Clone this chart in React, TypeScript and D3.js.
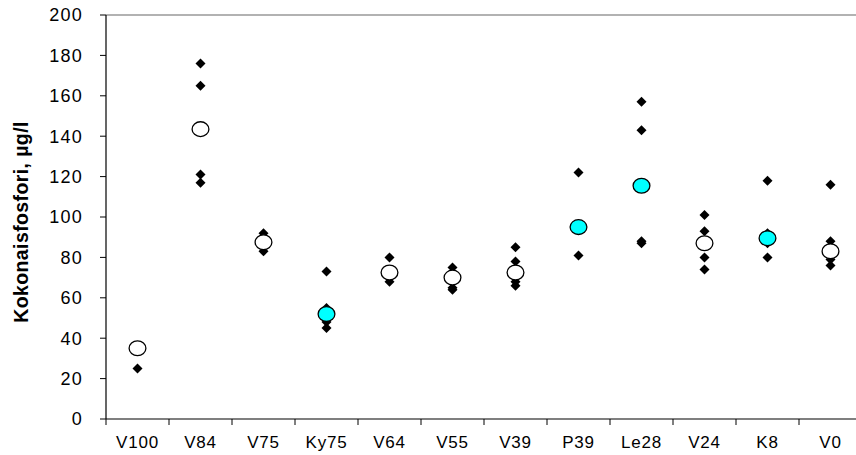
import React from "react";
import * as d3 from "d3";

// Sampling sites along the watercourse
const categories = ["V100", "V84", "V75", "Ky75", "V64", "V55", "V39", "P39", "Le28", "V24", "K8", "V0"];

// Individual total-phosphorus observations per site (µg/l)
const observations: number[][] = [
  [25],
  [176, 165, 121, 117],
  [92, 83],
  [73, 55, 48, 45],
  [80, 68],
  [75, 65, 64],
  [85, 78, 68, 66],
  [122, 81],
  [157, 143, 88, 87],
  [101, 93, 80, 74],
  [118, 92, 87, 80],
  [116, 88, 79, 76],
];

// Site averages (µg/l)
const averages = [35, 143.5, 87.5, 52, 72.5, 70, 72.5, 95, 115.5, 87, 89.5, 83];

// Sites whose average is shown in the highlight colour
const highlighted = ["Ky75", "P39", "Le28", "K8"];

const yTicks = [0, 20, 40, 60, 80, 100, 120, 140, 160, 180, 200];

const W = 856;
const H = 455;
const plotLeft = 106;
const plotTop = 15;
const plotBottom = 419;
const bandWidth = 63;

export default function App() {
  const x = d3
    .scaleBand<string>()
    .domain(categories)
    .range([plotLeft, plotLeft + bandWidth * categories.length])
    .padding(0);
  const y = d3.scaleLinear().domain([0, 200]).range([plotBottom, plotTop]);
  const diamond = d3.symbol(d3.symbolSquare, 50)() as string;
  const font = "'Liberation Sans', Arial, sans-serif";
  const cx = (c: string) => (x(c) as number) + x.bandwidth() / 2;
  const boundaries = d3.range(categories.length + 1).map((i) => plotLeft + i * x.bandwidth());

  return (
    <svg
      width={W}
      height={H}
      style={{ position: "fixed", top: 0, left: 0, background: "#fff" }}
      fontFamily={font}
    >
      <rect x={0} y={0} width={W} height={H} fill="#fff" />
      {/* plot frame top */}
      <line x1={plotLeft} x2={W} y1={plotTop} y2={plotTop} stroke="#999" strokeWidth={1.5} />
      {/* y axis */}
      <line x1={plotLeft} x2={plotLeft} y1={plotTop} y2={plotBottom} stroke="#000" strokeWidth={1.2} />
      {yTicks.map((t) => (
        <g key={t}>
          <line x1={plotLeft - 6} x2={plotLeft} y1={y(t)} y2={y(t)} stroke="#000" strokeWidth={1} />
          <text x={83} y={y(t)} dy="0.36em" textAnchor="end" fontSize={18} letterSpacing={1.2} fill="#000">
            {t}
          </text>
        </g>
      ))}
      <text
        transform={`translate(28,222) rotate(-90)`}
        textAnchor="middle"
        fontSize={19.5}
        letterSpacing={0.4}
        fontWeight="bold"
        fill="#000"
      >
        Kokonaisfosfori, µg/l
      </text>
      {/* x axis */}
      <line x1={plotLeft} x2={W} y1={plotBottom} y2={plotBottom} stroke="#000" strokeWidth={1.2} />
      {boundaries.map((bx, i) => (
        <line key={i} x1={bx} x2={bx} y1={plotBottom} y2={plotBottom + 6} stroke="#000" strokeWidth={1} />
      ))}
      {categories.map((c) => (
        <text key={c} x={cx(c)} y={448} textAnchor="middle" fontSize={17} letterSpacing={0.8} fill="#000">
          {c}
        </text>
      ))}
      {/* observations */}
      {categories.map((c, i) =>
        observations[i].map((v, j) => (
          <path
            key={`${c}-${j}`}
            d={diamond}
            transform={`translate(${cx(c)},${y(v)}) rotate(45)`}
            fill="#000"
          />
        ))
      )}
      {/* averages */}
      {categories.map((c, i) => (
        <ellipse
          key={`avg-${c}`}
          cx={cx(c)}
          cy={y(averages[i])}
          rx={8.4}
          ry={7.4}
          fill={highlighted.includes(c) ? "#00ffff" : "#fff"}
          stroke="#000"
          strokeWidth={1.3}
        />
      ))}
    </svg>
  );
}
